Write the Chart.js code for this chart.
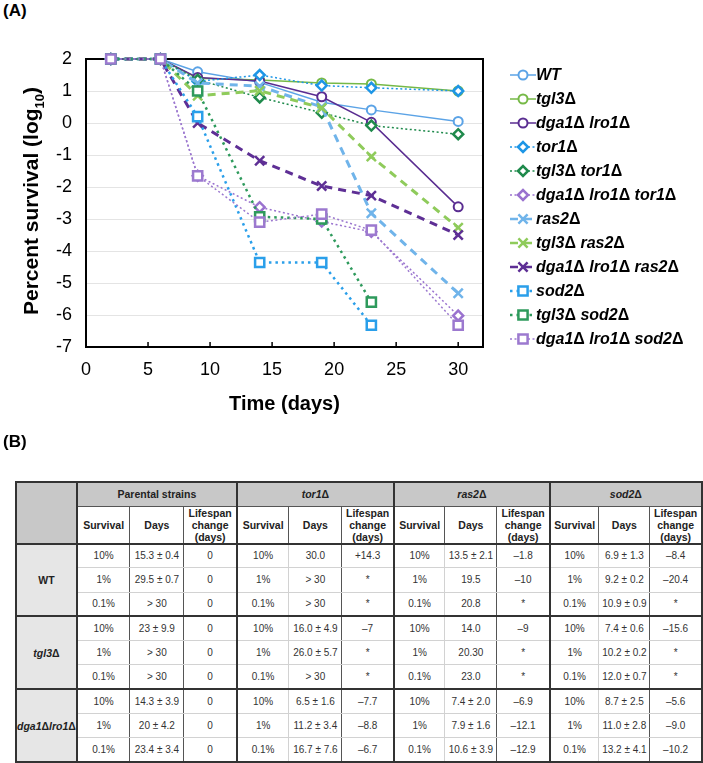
<!DOCTYPE html>
<html>
<head>
<meta charset="utf-8">
<script src="https://cdn.jsdelivr.net/npm/chart.js@4.4.1/dist/chart.umd.min.js"></script>
<style>
  body { margin: 0; background: #fff; font-family: Arial, "Liberation Sans", sans-serif; }
  #page { position: relative; width: 703px; height: 763px; overflow: hidden; }
  .panel-label { position: absolute; left: 3px; font-weight: bold; font-size: 17px; color: #000; }
  #chartBox { position: absolute; left: 0; top: 0; width: 703px; height: 430px; }
  #yTitle {
    position: absolute; left: 33px; top: 201px; white-space: nowrap;
    transform: translate(-50%, -50%) rotate(-90deg);
    font-weight: bold; font-size: 21px; color: #000;
  }
  #yTitle sub { font-size: 13px; }
  #legend { position: absolute; left: 510px; top: 63px; }
  .leg-row { height: 24px; display: flex; align-items: center; font: italic bold 16px Arial, "Liberation Sans", sans-serif; color: #000; white-space: nowrap; }
  .leg-row canvas { width: 26px; height: 16px; flex: none; }
  .delta { font-style: normal; }
  #survTable {
    position: absolute; left: 15px; top: 481px; border-collapse: collapse;
    border: 2px solid #333; table-layout: fixed; font-size: 10px; color: #333;
  }
  #survTable td { padding: 0; text-align: center; vertical-align: middle; }
  #survTable .hd { font-weight: bold; font-size: 10.5px; color: #222; line-height: 12px; }
</style>
</head>
<body>
<div id="page">
  <div class="panel-label" style="top:1px">(A)</div>
  <div id="chartBox"><canvas id="survivalChart"></canvas></div>
  <div id="yTitle">Percent survival (log<sub>10</sub>)</div>
  <div id="legend"></div>
  <div class="panel-label" style="top:432px">(B)</div>
  <table id="survTable"></table>
</div>
<script>
// ---- chart data (log10 percent survival) ----
const days = [2, 6, 9, 14, 19, 23, 30];
const xTicks = [0, 5, 10, 15, 20, 25, 30];
const yTicks = [-7, -6, -5, -4, -3, -2, -1, 0, 1, 2];

const strainNames = ['WT', 'tgl3Δ', 'dga1Δ lro1Δ', 'tor1Δ', 'tgl3Δ tor1Δ', 'dga1Δ lro1Δ tor1Δ',
  'ras2Δ', 'tgl3Δ ras2Δ', 'dga1Δ lro1Δ ras2Δ', 'sod2Δ', 'tgl3Δ sod2Δ', 'dga1Δ lro1Δ sod2Δ'];

const wt            = [2, 2, 1.6, 1.27, 0.65, 0.41, 0.05];
const tgl3          = [2, 2, 1.4, 1.34, 1.25, 1.22, 1.0];
const dga1lro1      = [2, 2, 1.42, 1.31, 0.82, 0.02, -2.62];
const tor1          = [2, 2, 1.3, 1.5, 1.17, 1.1, 1.0];
const tgl3tor1      = [2, 2, 1.35, 0.8, 0.32, -0.08, -0.35];
const dga1lro1tor1  = [2, 2, -1.65, -2.63, -3.08, -3.4, -6.02];
const ras2          = [2, 2, 1.25, 1.15, 0.5, -2.82, -5.32];
const tgl3ras2      = [2, 2, 0.85, 1.01, 0.47, -1.05, -3.27];
const dga1lro1ras2  = [2, 2, 0.0, -1.18, -1.97, -2.27, -3.5];
const sod2          = [2, 2, 0.2, -4.36, -4.36, -6.32, null];
const tgl3sod2      = [2, 2, 1.0, -2.93, -3.0, -5.6, null];
const dga1lro1sod2  = [2, 2, -1.65, -3.1, -2.85, -3.35, -6.32];

const seriesValues = [wt, tgl3, dga1lro1, tor1, tgl3tor1, dga1lro1tor1,
  ras2, tgl3ras2, dga1lro1ras2, sod2, tgl3sod2, dga1lro1sod2];

// styles
const colors = ['#5BA3E6', '#76B947', '#5A2D91', '#1E96E6', '#1F8A4C', '#9A72CF',
  '#70B4EA', '#8FCB5B', '#5E2F95', '#2A9FEA', '#2E9A5C', '#9C79CF'];
const lineWidths = [1.5, 1.5, 1.5, 1.5, 1.5, 1.5, 3, 3, 3, 2.5, 2.5, 1.5];
const dashes = [[], [], [], [2, 2.5], [2, 2.5], [2, 2.5], [8, 6], [8, 6], [8, 6], [2.5, 4], [2.5, 4], [2, 2.5]];
const markers = ['circle', 'circle', 'circle', 'rectRot', 'rectRot', 'rectRot',
  'crossRot', 'crossRot', 'crossRot', 'rect', 'rect', 'rect'];
const markerSizes = [4.5, 4.5, 4.5, 5, 5, 5, 6.5, 6.5, 6.5, 6.5, 6.5, 6.5];
const markerWidths = [2, 2, 2, 2.5, 2.5, 2.5, 2.5, 2.5, 2.5, 2.5, 2.5, 2.5];

// ---- table data ----
const groupNames = ['Parental strains', 'tor1Δ', 'ras2Δ', 'sod2Δ'];
const tableStrains = ['WT', 'tgl3Δ', 'dga1Δlro1Δ'];
const survivalLevels = ['10%', '1%', '0.1%'];
const daysParental = [['15.3 ± 0.4', '29.5 ± 0.7', '> 30'], ['23 ± 9.9', '> 30', '> 30'], ['14.3 ± 3.9', '20 ± 4.2', '23.4 ± 3.4']];
const changeParental = [['0', '0', '0'], ['0', '0', '0'], ['0', '0', '0']];
const daysTor1 = [['30.0', '> 30', '> 30'], ['16.0 ± 4.9', '26.0 ± 5.7', '> 30'], ['6.5 ± 1.6', '11.2 ± 3.4', '16.7 ± 7.6']];
const changeTor1 = [['+14.3', '*', '*'], ['–7', '*', '*'], ['–7.7', '–8.8', '–6.7']];
const daysRas2 = [['13.5 ± 2.1', '19.5', '20.8'], ['14.0', '20.30', '23.0'], ['7.4 ± 2.0', '7.9 ± 1.6', '10.6 ± 3.9']];
const changeRas2 = [['–1.8', '–10', '*'], ['–9', '*', '*'], ['–6.9', '–12.1', '–12.9']];
const daysSod2 = [['6.9 ± 1.3', '9.2 ± 0.2', '10.9 ± 0.9'], ['7.4 ± 0.6', '10.2 ± 0.2', '12.0 ± 0.7'], ['8.7 ± 2.5', '11.0 ± 2.8', '13.2 ± 4.1']];
const changeSod2 = [['–8.4', '–20.4', '*'], ['–15.6', '*', '*'], ['–5.6', '–9.0', '–10.2']];

const groupDays = [daysParental, daysTor1, daysRas2, daysSod2];
const groupChange = [changeParental, changeTor1, changeRas2, changeSod2];

Chart.defaults.font.family = 'Arial, "Liberation Sans", sans-serif';
Chart.defaults.color = '#000';

// frame around the plot + small inside tick marks on the x axis
const framePlugin = {
  id: 'frame',
  beforeDatasetsDraw(chart) {
    const { ctx, chartArea: a, scales } = chart;
    ctx.save();
    ctx.strokeStyle = '#000';
    ctx.lineWidth = 1.5;
    scales.x.ticks.forEach(t => {
      const px = scales.x.getPixelForValue(t.value);
      ctx.beginPath();
      ctx.moveTo(px, a.bottom);
      ctx.lineTo(px, a.bottom - 5);
      ctx.stroke();
    });
    ctx.lineWidth = 2;
    ctx.strokeRect(a.left, a.top, a.right - a.left, a.bottom - a.top);
    ctx.restore();
  }
};

const n = seriesValues.length;
const datasets = seriesValues.map((vals, i) => ({
  label: strainNames[i],
  data: days.map((d, k) => ({ x: d, y: vals[k] })).filter(p => p.y !== null),
  borderColor: colors[i],
  borderWidth: lineWidths[i],
  borderDash: dashes[i],
  pointStyle: markers[i],
  pointRadius: markerSizes[i],
  pointBorderWidth: markerWidths[i],
  pointBorderColor: colors[i],
  pointBackgroundColor: '#fff',
  tension: 0,
  fill: false,
  clip: false,
  order: n - i
}));

new Chart(document.getElementById('survivalChart').getContext('2d'), {
  type: 'line',
  data: { datasets: datasets },
  options: {
    responsive: true,
    maintainAspectRatio: false,
    animation: false,
    layout: { padding: { top: 59, right: 220, left: 0, bottom: 0 } },
    plugins: { legend: { display: false }, tooltip: { enabled: false } },
    scales: {
      x: {
        type: 'linear',
        min: 0,
        max: 32,
        afterBuildTicks: s => { s.ticks = xTicks.map(v => ({ value: v })); },
        afterFit: s => { s.height = 83; },
        grid: { display: false, drawTicks: false },
        border: { display: false },
        ticks: { font: { size: 18 }, padding: 12, color: '#000', maxRotation: 0 },
        title: { display: true, text: 'Time (days)', font: { size: 20, weight: 'bold' }, color: '#000', padding: { top: 4, bottom: 14 } }
      },
      y: {
        min: -7,
        max: 2,
        afterBuildTicks: s => { s.ticks = yTicks.map(v => ({ value: v })); },
        afterFit: s => { s.width = 86; },
        grid: { color: '#E4E4E4', lineWidth: 1, drawTicks: false },
        border: { display: false },
        ticks: { font: { size: 18 }, padding: 14, color: '#000' }
      }
    }
  },
  plugins: [framePlugin]
});

// Δ is set upright, as in the original figure
const withDelta = s => s.replace(/Δ/g, '<span class="delta">Δ</span>');

// ---- legend (line sample + marker + label) ----
function drawSample(cv, i) {
  const ctx = cv.getContext('2d');
  ctx.strokeStyle = colors[i];
  ctx.lineWidth = lineWidths[i] > 2 ? 2.5 : lineWidths[i];
  ctx.setLineDash(dashes[i]);
  ctx.beginPath();
  ctx.moveTo(0, 8);
  ctx.lineTo(26, 8);
  ctx.stroke();
  ctx.setLineDash([]);
  ctx.fillStyle = '#fff';
  ctx.lineWidth = markerWidths[i];
  Chart.helpers.drawPoint(ctx, { pointStyle: markers[i], radius: markerSizes[i], borderWidth: markerWidths[i], rotation: 0 }, 13, 8);
}

const legendBox = document.getElementById('legend');
strainNames.forEach((name, i) => {
  const row = document.createElement('div');
  row.className = 'leg-row';
  const cv = document.createElement('canvas');
  cv.width = 26; cv.height = 16;
  row.appendChild(cv);
  const span = document.createElement('span');
  span.innerHTML = withDelta(name);
  row.appendChild(span);
  legendBox.appendChild(row);
  drawSample(cv, i);
});

// ---- table (B) ----
const colWidths = [60, 53, 54, 53, 52, 53, 52, 51, 52, 53, 49, 51, 52];
const thick = '2px solid #333', dark = '1.5px solid #555', light = '1px solid #d2d2d2';
const table = document.getElementById('survTable');

const cg = document.createElement('colgroup');
colWidths.forEach(w => { const c = document.createElement('col'); c.style.width = w + 'px'; cg.appendChild(c); });
table.appendChild(cg);

function cell(tr, text, opts) {
  const td = document.createElement('td');
  td.innerHTML = text;
  Object.assign(td.style, opts.style || {});
  if (opts.cls) td.className = opts.cls;
  if (opts.colSpan) td.colSpan = opts.colSpan;
  if (opts.rowSpan) td.rowSpan = opts.rowSpan;
  tr.appendChild(td);
  return td;
}
const ital = s => s.includes('Δ') ? '<i>' + withDelta(s) + '</i>' : s;

// header row 1
let tr = document.createElement('tr');
tr.style.height = '24px';
cell(tr, '', { rowSpan: 2, style: { background: '#C8C8C8', borderRight: thick, borderBottom: thick } });
groupNames.forEach(g => {
  cell(tr, ital(g), { cls: 'hd', colSpan: 3, style: { background: '#C8C8C8', borderLeft: thick, borderBottom: dark } });
});
table.appendChild(tr);

// header row 2
tr = document.createElement('tr');
tr.style.height = '36px';
groupNames.forEach(() => {
  ['Survival', 'Days', 'Lifespan<br>change<br>(days)'].forEach((h, j) => {
    cell(tr, h, { cls: 'hd', style: { background: '#fff', borderLeft: j === 0 ? thick : dark, borderBottom: thick } });
  });
});
table.appendChild(tr);

// data rows
tableStrains.forEach((s, si) => {
  survivalLevels.forEach((lvl, li) => {
    tr = document.createElement('tr');
    tr.style.height = '24.3px';
    const bottom = li === 2 ? thick : light;
    if (li === 0) {
      cell(tr, ital(s), { cls: 'hd', rowSpan: 3, style: { background: '#E6E6E6', borderRight: thick, borderBottom: thick } });
    }
    groupNames.forEach((g, gi) => {
      cell(tr, lvl, { style: { borderLeft: thick, borderBottom: bottom } });
      cell(tr, groupDays[gi][si][li], { style: { borderLeft: gi === 0 ? dark : light, borderBottom: bottom } });
      cell(tr, groupChange[gi][si][li], { style: { borderLeft: dark, borderBottom: bottom } });
    });
    table.appendChild(tr);
  });
});
</script>
</body>
</html>
